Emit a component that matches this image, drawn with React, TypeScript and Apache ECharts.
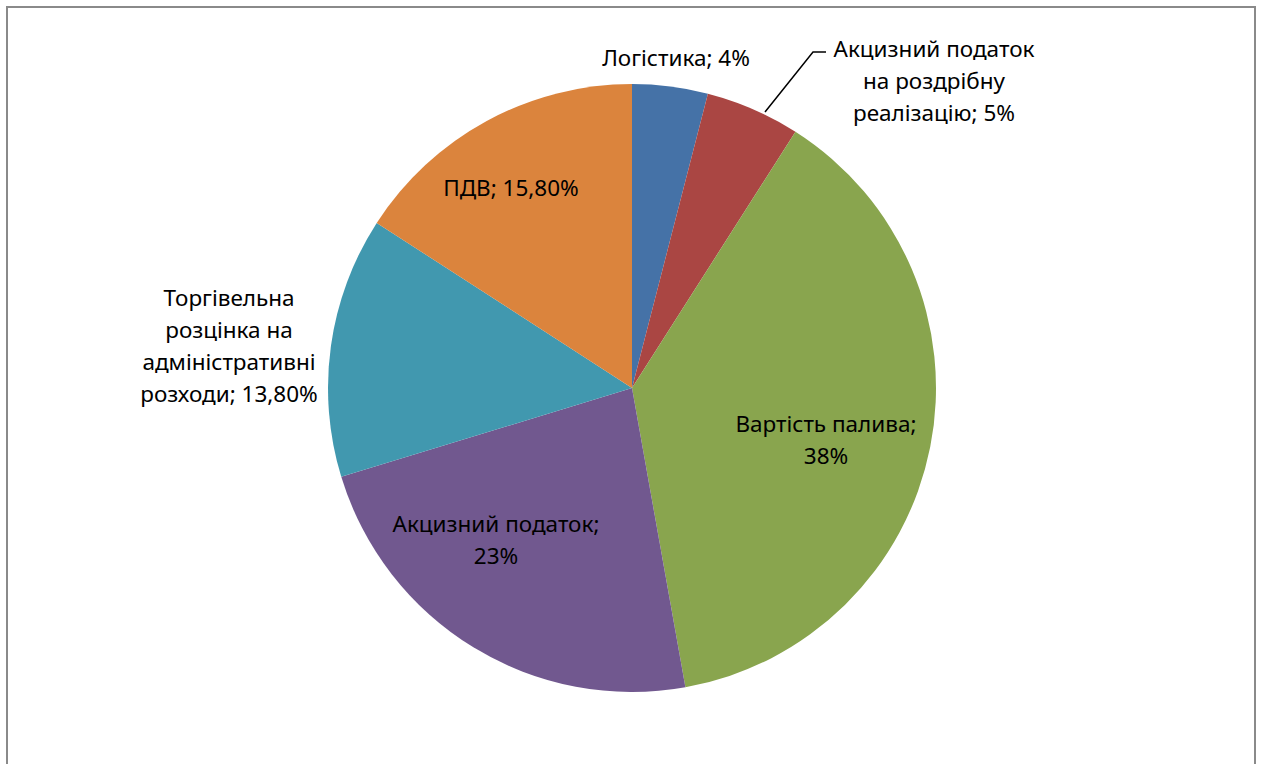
import React, { useEffect, useRef } from "react";
import * as echarts from "echarts";

const categories = [
  "Логістика",
  "Акцизний податок\nна роздрібну\nреалізацію",
  "Вартість палива;",
  "Акцизний податок;",
  "Торгівельна\nрозцінка на\nадміністративні\nрозходи",
  "ПДВ",
];
const values = [4, 5, 38, 23, 13.8, 15.8];
const valueLabels = ["4%", "5%", "38%", "23%", "13,80%", "15,80%"];
const colors = ["#4572A7", "#AA4643", "#89A54E", "#71588F", "#4198AF", "#DB843D"];
// label separators: inline "; " or newline after name
const separators = ["; ", "; ", "\n", "\n", "; ", "; "];
const labelCenters = [
  [676, 57],
  [934, 80],
  [826, 439],
  [496, 539],
  [229, 345],
  [511, 187],
];

export default function App() {
  const ref = useRef<HTMLDivElement>(null);
  useEffect(() => {
    document.body.style.margin = "0";
    const chart = echarts.init(ref.current!, null, { renderer: "svg" });
    chart.setOption({
      animation: false,
      backgroundColor: "#ffffff",
      graphic: [
        {
          type: "rect",
          shape: { x: 7, y: 7, width: 1248, height: 800 },
          style: { fill: "none", stroke: "#8a8a8a", lineWidth: 2 },
          silent: true,
        },
      ],
      series: [
        {
          type: "pie",
          center: [632, 388],
          radius: [0, 304],
          startAngle: 90,
          clockwise: true,
          avoidLabelOverlap: false,
          itemStyle: { borderWidth: 0 },
          label: {
            show: true,
            position: "inside",
            color: "#000",
            fontFamily: "Noto Sans, sans-serif",
            fontSize: 22.5,
            lineHeight: 32,
            align: "center",
            formatter: (p: any) =>
              categories[p.dataIndex] + separators[p.dataIndex] + valueLabels[p.dataIndex],
          },
          labelLine: { show: false },
          labelLayout: (p: any) => {
            const c = labelCenters[p.dataIndex];
            const res: any = { x: c[0], y: c[1], align: "center", verticalAlign: "middle" };
            if (p.dataIndex === 1) {
              res.labelLinePoints = [
                [765, 112],
                [813, 52],
                [826, 52],
              ];
            }
            return res;
          },
          data: categories.map((n, i) => ({
            name: n,
            value: values[i],
            itemStyle: { color: colors[i] },
            ...(i === 1
              ? {
                  label: { position: "outside" },
                  labelLine: { show: true, length: 10, length2: 10, lineStyle: { color: "#000", width: 1.5 } },
                }
              : {}),
          })),
        },
      ],
    });
    return () => chart.dispose();
  }, []);
  return <div ref={ref} style={{ width: 1262, height: 764 }} />;
}
